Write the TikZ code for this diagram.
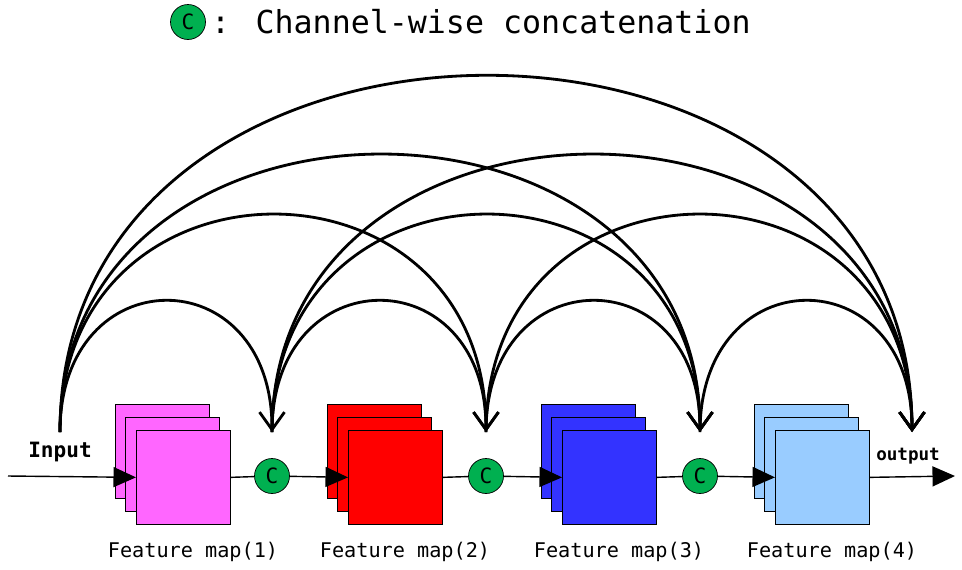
\documentclass[tikz,border=0pt]{standalone}
\usepackage{fontspec}
\setmainfont{DejaVu Sans Mono}
\usetikzlibrary{arrows.meta}
\definecolor{fmpink}{HTML}{FF66FF}
\definecolor{fmred}{HTML}{FF0000}
\definecolor{fmblue}{HTML}{3333FF}
\definecolor{fmsky}{HTML}{99CCFF}
\definecolor{catgreen}{HTML}{00B050}
\tikzset{
  fmap/.style   = {draw, thin, minimum size=1.88cm, inner sep=0pt},
  concat/.style = {circle, draw, fill=catgreen, minimum size=0.7cm,
                   inner sep=0pt, font=\large},
  skip/.style   = {line width=1.6pt, -{Straight Barb[length=3.5mm,width=5mm,line width=1.6pt]}},
  flow/.style   = {thick, -{Triangle[length=4.5mm,width=4mm]}},
  label/.style  = {font=\fontsize{11.5}{14}\selectfont}
}
\begin{document}
\begin{tikzpicture}[x=0.02cm,y=-0.02cm]
  \useasboundingbox (0,0) rectangle (962,569);

  % legend
  \node [concat] (legend) at (188,22) {C};
  \node [anchor=west, font=\fontsize{18}{20}\selectfont] (legtext) at (205,22) {: Channel-wise concatenation};

  % feature map stacks
  \foreach \x/\col/\i in {136/fmpink/1, 348/fmred/2, 562/fmblue/3, 775/fmsky/4} {
    \node [fmap, fill=\col, anchor=north west] at (\x-21,404) {};
    \node [fmap, fill=\col, anchor=north west] at (\x-11,417) {};
    \node [fmap, fill=\col, anchor=north west] (f\i) at (\x,430) {};
    \node [label] (l\i) at (\x+57,552) {Feature map(\i)};
  }

  % concatenation nodes
  \node [concat] (c1) at (272,476) {C};
  \node [concat] (c2) at (486,476) {C};
  \node [concat] (c3) at (700,476) {C};

  \coordinate (in) at (8,476);
  \coordinate (out) at (955,476);
  \node [font=\large\bfseries] (inlab) at (60,452) {Input};
  \node [font=\bfseries] (outlab) at (908,456) {output};

  % main flow
  \draw [flow] (in) -- (f1.west);
  \draw [thick] (f1.east) -- (c1);
  \draw [flow] (c1) -- (f2.west);
  \draw [thick] (f2.east) -- (c2);
  \draw [flow] (c2) -- (f3.west);
  \draw [thick] (f3.east) -- (c3);
  \draw [flow] (c3) -- (f4.west);
  \draw [flow] (f4.east) -- (out);

  % skip connections
  \coordinate (s0) at (60,432);
  \coordinate (s1) at (272,432);
  \coordinate (s2) at (486,432);
  \coordinate (s3) at (700,432);
  \coordinate (s4) at (912,432);
  \foreach \a/\b/\h in {0/1/175, 0/2/290, 0/3/370, 0/4/475,
                        1/2/175, 1/3/290, 1/4/370,
                        2/3/175, 2/4/290,
                        3/4/175} {
    \draw [skip] (s\a) .. controls ([yshift=\h*0.02cm]s\a) and ([yshift=\h*0.02cm]s\b) .. (s\b);
  }
\end{tikzpicture}
\end{document}
